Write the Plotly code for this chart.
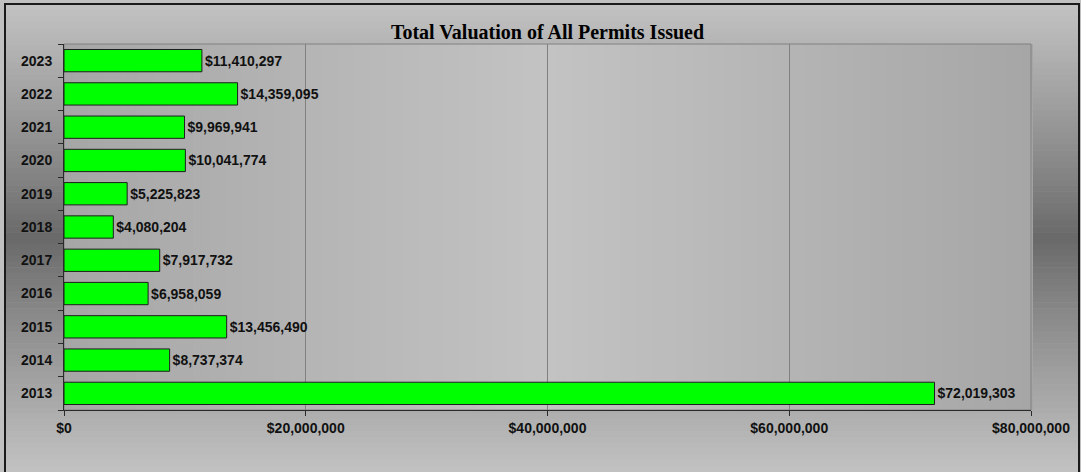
import plotly.graph_objects as go

# Données
years = ["2013", "2014", "2015", "2016", "2017", "2018", "2019", "2020", "2021", "2022", "2023"]
valuations = [72019303, 8737374, 13456490, 6958059, 7917732, 4080204, 5225823,
              10041774, 9969941, 14359095, 11410297]
x_ticks = [0, 20000000, 40000000, 60000000, 80000000]
x_tick_text = ["$0", "$20,000,000", "$40,000,000", "$60,000,000", "$80,000,000"]

W, H = 1081, 472
L, R, T, B = 64, 50, 44, 62
PW, PH = W - L - R, H - T - B


def px_x(px):
    return (px - L) / PW


def px_y(py):
    return (H - B - py) / PH


def grey(v):
    v = int(round(v))
    return f"rgb({v},{v},{v})"


shapes = []

# Fond extérieur : dégradé vertical (clair en haut/bas, sombre au milieu)
n = 80
for i in range(n):
    t = (i + 0.5) / n
    d = abs(t - 0.5) * 2
    v = 104 + (194 - 104) * d ** 0.9
    y0 = 4 + (H - 4) * i / n
    y1 = 4 + (H - 4) * (i + 1) / n + 0.5
    shapes.append(dict(type="rect", xref="paper", yref="paper", layer="below",
                       x0=px_x(5), x1=px_x(1079), y0=px_y(y1), y1=px_y(y0),
                       fillcolor=grey(v), line=dict(width=0)))

# Zone de tracé : dégradé horizontal
n = 120
for i in range(n):
    t = (i + 0.5) / n
    d = abs(t - 0.5) * 2
    v = 166 + (195 - 166) * (1 - d)
    shapes.append(dict(type="rect", xref="paper", yref="paper", layer="below",
                       x0=i / n, x1=(i + 1) / n + 0.002, y0=0, y1=1,
                       fillcolor=grey(v), line=dict(width=0)))

# Bordure de la zone de tracé
shapes.append(dict(type="rect", xref="paper", yref="paper", layer="below",
                   x0=0, x1=1, y0=0, y1=1, line=dict(color="#808080", width=1)))

# Bordure du graphique (le bas sort de l'image)
shapes.append(dict(type="rect", xref="paper", yref="paper", layer="above",
                   x0=px_x(5), x1=px_x(1079), y0=px_y(478), y1=px_y(4),
                   line=dict(color="#1a1a1a", width=2)))

labels = [f"${v:,}" for v in valuations]
font_lbl = dict(family="Liberation Sans, Arial", size=14, color="#111111", weight="bold")

fig = go.Figure()
fig.add_trace(go.Bar(
    x=valuations, y=years, orientation="h",
    marker=dict(color="#00ff00", line=dict(color="#1e1e1e", width=1)),
    text=labels, textposition="outside", cliponaxis=False,
    textfont=font_lbl,
    hoverinfo="skip",
))

fig.update_layout(
    width=W, height=H,
    margin=dict(l=L, r=R, t=T, b=B, pad=0),
    paper_bgcolor="#c0c0c0",
    plot_bgcolor="rgba(0,0,0,0)",
    bargap=0.33,
    showlegend=False,
    shapes=shapes,
    title=dict(text="<b>Total Valuation of All Permits Issued</b>",
               font=dict(family="Liberation Serif, Times New Roman", size=20, color="#000000"),
               x=0.5, xref="paper", xanchor="center", y=1 - 32 / H, yanchor="middle"),
    xaxis=dict(range=[0, 80000000], tickvals=x_ticks, ticktext=x_tick_text,
               showgrid=True, gridcolor="#808080", gridwidth=1,
               showline=True, linecolor="#2a2a2a", linewidth=1,
               ticks="outside", ticklen=5, tickcolor="#2a2a2a",
               tickfont=font_lbl, zeroline=False, fixedrange=True),
    yaxis=dict(type="category", categoryorder="array", categoryarray=years,
               showgrid=False, showline=True, linecolor="#2a2a2a", linewidth=1,
               ticks="outside", ticklen=5, tickcolor="#2a2a2a", tickson="boundaries",
               ticklabelstandoff=8,
               tickfont=font_lbl, fixedrange=True),
)

fig.write_html("out.html", config={"displayModeBar": False},
               post_script="document.body.style.margin='0';")
